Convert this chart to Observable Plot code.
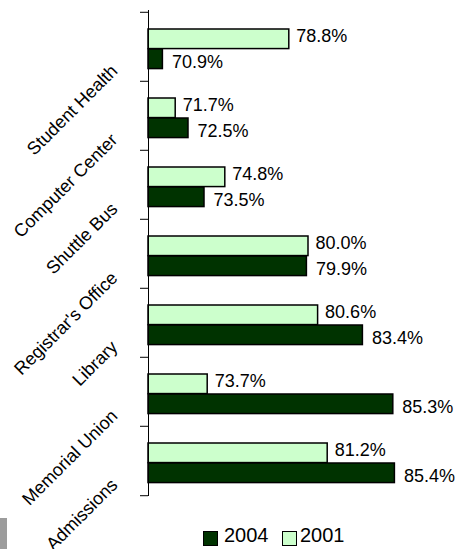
<!DOCTYPE html>
<html><head><meta charset="utf-8">
<script src="https://cdn.jsdelivr.net/npm/d3@7"></script>
<script src="https://cdn.jsdelivr.net/npm/@observablehq/plot@0.6"></script>
<style>
body{margin:0;background:#fff;font-family:"Liberation Sans",Arial,sans-serif;}
#wrap{position:relative;width:462px;height:549px;overflow:hidden;background:#fff}
#chart{position:absolute;left:0;top:0}
.lg{position:absolute;font-size:20px;line-height:23px;color:#000;white-space:nowrap}
.sw{position:absolute;width:13px;height:13px;border:1px solid #000;box-sizing:content-box}
#corner{position:absolute;left:0;top:518px;width:7px;height:31px;background:#9c9c9c}
</style></head><body>
<div id="wrap"><div id="chart"></div>
<div class="sw" style="left:203px;top:531px;background:#003300"></div>
<div class="lg" style="left:224px;top:524px">2004</div>
<div class="sw" style="left:282px;top:531px;background:#CCFFCC"></div>
<div class="lg" style="left:300px;top:524px">2001</div>
<div id="corner"></div>
</div>
<script>
const categories = ["Student Health","Computer Center","Shuttle Bus","Registrar's Office","Library","Memorial Union","Admissions"];
const values2001 = [78.8, 71.7, 74.8, 80.0, 80.6, 73.7, 81.2];
const values2004 = [70.9, 72.5, 73.5, 79.9, 83.4, 85.3, 85.4];
const xDomain = [70, 88];
const colors = {"2001": "#CCFFCC", "2004": "#003300"};

const W = 462, H = 510, mt = 10, mb = 14, ml = 148, mr = 26;
const step = (H - mt - mb) / categories.length;
const d2001 = categories.map((c, i) => ({category: c, value: values2001[i]}));
const d2004 = categories.map((c, i) => ({category: c, value: values2004[i]}));
const fmt = d => d.value.toFixed(1) + "%";

const chart = Plot.plot({
  width: W, height: H,
  marginTop: mt, marginBottom: mb, marginLeft: ml, marginRight: mr,
  style: {fontFamily: "'Liberation Sans', Arial, sans-serif", background: "#fff", overflow: "visible"},
  x: {domain: xDomain, axis: null},
  y: {domain: categories, padding: 0, axis: null},
  marks: [
    Plot.barX(d2001, {x1: () => xDomain[0], x2: "value", y: "category", fill: colors["2001"], stroke: "#000", strokeWidth: 1.5, insetTop: 17, insetBottom: step - 37}),
    Plot.barX(d2004, {x1: () => xDomain[0], x2: "value", y: "category", fill: colors["2004"], stroke: "#000", strokeWidth: 1.5, insetTop: 37, insetBottom: step - 57}),
    Plot.text(d2001, {x: "value", y: "category", text: fmt, textAnchor: "start", dx: 7, dy: -10.5, fontSize: 18, fill: "#000"}),
    Plot.text(d2004, {x: "value", y: "category", text: fmt, textAnchor: "start", dx: 9, dy: 15.5, fontSize: 18, fill: "#000"}),
    Plot.ruleX([xDomain[0]], {stroke: "#000", strokeWidth: 1}),
    Plot.axisY(categories, {anchor: "left", tickSize: 8, tickFormat: () => "", dy: -step / 2, label: null, stroke: "#000"}),
    Plot.axisY(categories.slice(-1), {anchor: "left", tickSize: 8, tickFormat: () => "", dy: step / 2, label: null, stroke: "#000"}),
    Plot.text(categories, {y: d => d, text: d => d, frameAnchor: "left", textAnchor: "end", rotate: -45, dx: -34, dy: 21, fontSize: 18, fill: "#000"})
  ]
});
document.getElementById("chart").appendChild(chart);
</script>
</body></html>
